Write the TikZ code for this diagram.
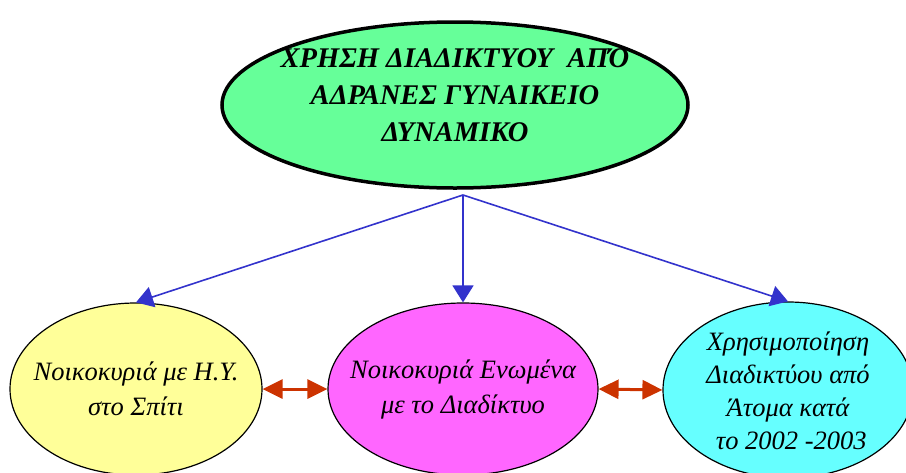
\documentclass[tikz,border=0pt]{standalone}
\usepackage{fontspec}
\setmainfont{Liberation Serif}
\usetikzlibrary{shapes.geometric,arrows.meta}
\definecolor{topg}{HTML}{66FF99}
\definecolor{yel}{HTML}{FFFF99}
\definecolor{mag}{HTML}{FF66FF}
\definecolor{cyn}{HTML}{66FFFF}
\definecolor{blu}{HTML}{3333CC}
\definecolor{rd}{HTML}{CC3300}
\tikzset{
  oval/.style={ellipse,draw=black,inner sep=0pt},
  big/.style={font=\fontsize{28.5}{37}\selectfont\bfseries\itshape,align=center},
  small/.style={font=\fontsize{26.5}{35}\selectfont\itshape,align=center},
  bluearrow/.style={draw=blu,line width=1.6pt,-{Triangle[length=17pt,width=21pt]}},
  redarrow/.style={draw=rd,line width=3pt,{Triangle[length=20pt,width=19pt]}-{Triangle[length=20pt,width=19pt]}}
}
\begin{document}
\begin{tikzpicture}[x=1pt,y=-1pt]
\useasboundingbox (0,0) rectangle (906,472);
\node[oval,fill=topg,line width=3.5pt,minimum width=466pt,minimum height=166pt,
  label={[big,name=topt,yshift=10pt]center:{ΧΡΗΣΗ ΔΙΑΔΙΚΤΥΟΥ\ \ ΑΠΌ\\ΑΔΡΑΝΕΣ ΓΥΝΑΙΚΕΙΟ\\ΔΥΝΑΜΙΚΟ}}] (top) at (455,105) {};
\node[oval,fill=yel,line width=1.2pt,minimum width=252pt,minimum height=172pt,
  label={[small,name=leftt,yshift=0pt]center:{Νοικοκυριά με Η.Υ.\\στο Σπίτι}}] (left) at (136,389) {};
\node[oval,fill=mag,line width=1.2pt,minimum width=270pt,minimum height=172pt,
  label={[small,name=midt,yshift=0pt]center:{Νοικοκυριά Ενωμένα\\με το Διαδίκτυο}}] (mid) at (463,389) {};
\node[oval,fill=cyn,line width=1.2pt,minimum width=250pt,minimum height=176pt,
  label={[small,name=rightt,font=\fontsize{26.5}{33}\selectfont\itshape,yshift=-1pt]center:{Χρησιμοποίηση\\Διαδικτύου από\\Άτομα κατά\\\ το 2002 -2003}}] (right) at (788,390) {};
\coordinate (hub) at (463,195);
\draw[bluearrow] (hub) -- (left.north);
\draw[bluearrow] (hub) -- (mid.north);
\draw[bluearrow] (hub) -- (right.north);
\draw[redarrow] (left.east) -- (mid.west);
\draw[redarrow] (mid.east) -- (right.west);
\end{tikzpicture}
\end{document}
